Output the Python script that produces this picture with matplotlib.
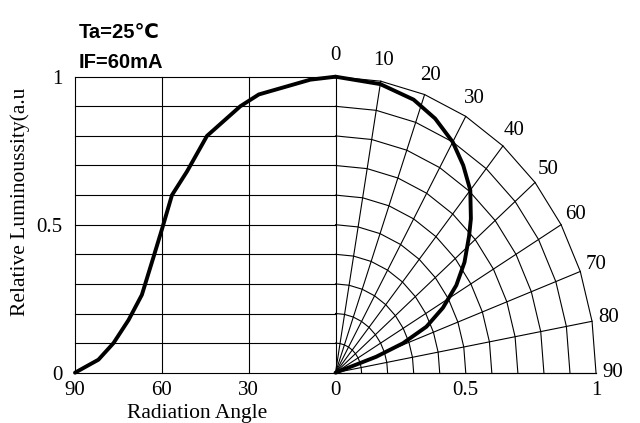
import numpy as np
import matplotlib
matplotlib.use("Agg")
import matplotlib.pyplot as plt

# left panel: luminosity vs radiation angle
cart_angle = [90, 81.9, 76.7, 71.5, 66.9, 62.9, 59.8, 56.5, 51.3, 44.4, 32.9, 26.5, 8.7, 0]
cart_lum = [0, 0.044, 0.10, 0.178, 0.263, 0.39, 0.49, 0.60, 0.68, 0.80, 0.90, 0.94, 0.99, 1.0]

# right panel: polar pattern
polar_angle = [0, 10, 18, 24, 30, 35, 40, 45, 48, 53, 57.5, 62, 66, 69, 71, 71]
polar_r = [1.0, 0.99, 0.97, 0.94, 0.90, 0.855, 0.805, 0.735, 0.69, 0.62, 0.55, 0.467, 0.382, 0.277, 0.165, 0]

left_ticks = [90, 60, 30, 0]
right_ticks = [0.5, 1]
y_ticks = [0, 0.5, 1]
y_grid = [0.1, 0.2, 0.3, 0.4, 0.5, 0.6, 0.7, 0.8, 0.9]
spoke_angles = [0, 10, 20, 30, 40, 50, 60, 70, 80, 90]
ring_radii = [0.1, 0.2, 0.3, 0.4, 0.5, 0.6, 0.7, 0.8, 0.9, 1.0]

serif = "Liberation Serif"
sans = ["Liberation Sans", "DejaVu Sans"]

fig = plt.figure(figsize=(6.4, 4.23), dpi=100)
ax = fig.add_axes([75 / 640, 1 - 372.7 / 423, 521 / 640, 296 / 423])
ax.set_xlim(-1, 1)
ax.set_ylim(0, 1)
for s in ax.spines.values():
    s.set_visible(False)

lw = 0.8
kw = dict(color="black", lw=lw, clip_on=False)

# left panel frame + grid
for y in y_grid:
    ax.plot([-1, 0], [y, y], **kw)
ax.plot([-1, 0], [1, 1], **kw)
ax.plot([-1, -1], [0, 1], **kw)
for a in left_ticks[1:3]:
    ax.plot([-a / 90, -a / 90], [0, 1], **kw)
ax.plot([-1, 1], [0, 0], **kw)

# polar grid (polygonal rings)
th = np.radians(spoke_angles)
for a in th:
    ax.plot([0, np.sin(a)], [0, np.cos(a)], **kw)
for r in ring_radii:
    ax.plot(r * np.sin(th), r * np.cos(th), **kw)

# curves
ca = np.array(cart_angle)
ax.plot(-ca / 90, cart_lum, color="black", lw=2.8, solid_capstyle="round",
        solid_joinstyle="round", clip_on=False, zorder=5)
pa = np.radians(polar_angle)
pr = np.array(polar_r)
ax.plot(pr * np.sin(pa), pr * np.cos(pa), color="black", lw=2.8,
        solid_capstyle="round", solid_joinstyle="round", clip_on=False, zorder=5)

# polar angle labels
for a in spoke_angles:
    t = np.radians(a)
    ax.text(1.065 * np.sin(t), 1.07 * np.cos(t), str(a), ha="center", va="center",
            family=serif, fontsize=15)

# axis ticks
xt = [-a / 90 for a in left_ticks] + right_ticks
xl = [str(a) for a in left_ticks] + ["0.5", "1"]
ax.set_xticks(xt, xl, family=serif, fontsize=15)
ax.set_yticks(y_ticks, ["0", "0.5", "1"], family=serif, fontsize=15)
ax.tick_params(axis="x", length=0, pad=6)
ax.tick_params(axis="y", length=0, pad=9)

fig.text(20 / 640, 1 - 202 / 423, "Relative Luminoussity(a.u", rotation=90,
         ha="center", va="center", family=serif, fontsize=15.5)
fig.text(197 / 640, 1 - 413 / 423, "Radiation Angle", ha="center", va="center",
         family=serif, fontsize=15.5)

fig.text(79 / 640, 1 - 33 / 423, "Ta=25\u2103", ha="left", va="center",
         family=sans, fontsize=14.5, fontweight="bold")
fig.text(79 / 640, 1 - 62 / 423, "IF=60mA", ha="left", va="center",
         family=sans, fontsize=14.5, fontweight="bold")

fig.savefig("out.png", dpi=100)
